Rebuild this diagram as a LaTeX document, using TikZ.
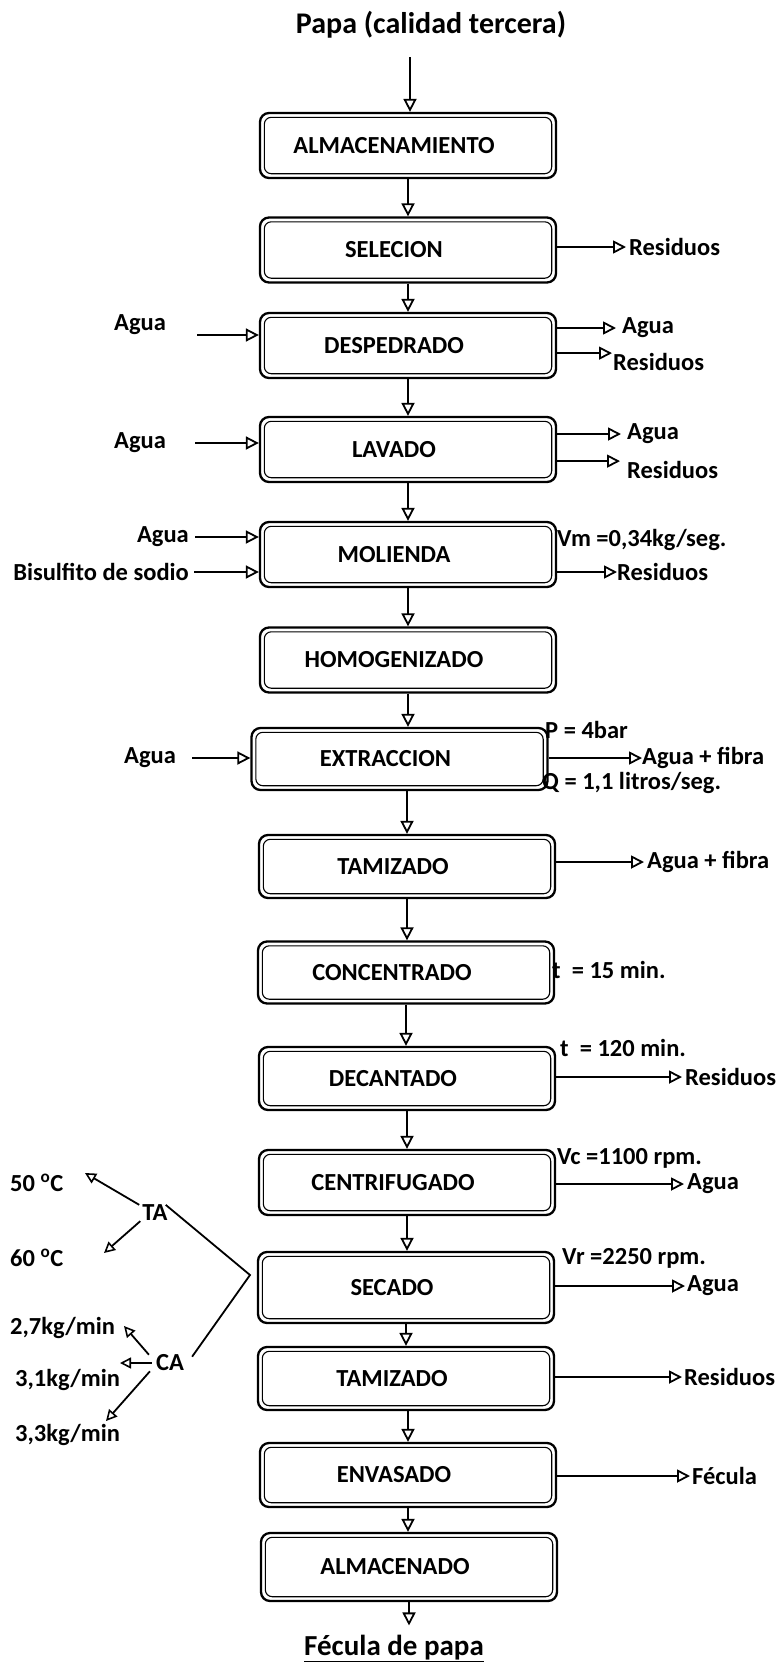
\documentclass[tikz,border=0pt]{standalone}
\usepackage{fontspec}
\setmainfont{Carlito}
\usetikzlibrary{arrows.meta}
\begin{document}
\begin{tikzpicture}[x=1pt,y=-1pt,
  every node/.style={font=\fontsize{24.5}{28}\selectfont\bfseries, inner sep=0pt},
  proc/.style={draw, line width=2.3pt, rounded corners=9pt, minimum width=296pt, minimum height=65pt,
    execute at end node={\hspace*{28pt}},
    path picture={\draw[line width=1.1pt, rounded corners=7pt]
      ([shift={(4.3pt,-4.3pt)}]path picture bounding box.north west) rectangle
      ([shift={(-4.3pt,4.3pt)}]path picture bounding box.south east);}},
  arr/.style={line width=2pt, -{Triangle[open, length=13pt, width=13pt, line width=1.8pt]}},
  sarr/.style={line width=1.8pt, -{Triangle[open, length=11pt, width=11pt, line width=1.6pt]}},
  ln/.style={line width=1.8pt},
  lbl/.style={anchor=west}]
\useasboundingbox (0,0) rectangle (776,1665);
\fill[white] (0,0) rectangle (776,1665);

% title
\node[font=\fontsize{30}{34}\selectfont\bfseries] (t0) at (431,25) {Papa (calidad tercera)};
\coordinate (t0a) at (410,57);

% process boxes
\node[proc] (b1) at (408,145.5) {ALMACENAMIENTO};
\node[proc] (b2) at (408,250) {SELECION};
\node[proc] (b3) at (408,345.5) {DESPEDRADO};
\node[proc] (b4) at (408,449.5) {LAVADO};
\node[proc] (b5) at (408,554.5) {MOLIENDA};
\node[proc] (b6) at (408,660) {HOMOGENIZADO};
\node[proc, minimum height=62pt] (b7) at (399.5,759) {EXTRACCION};
\node[proc, minimum height=63pt] (b8) at (407,866.5) {TAMIZADO};
\node[proc, minimum height=62pt] (b9) at (406,972.5) {CONCENTRADO};
\node[proc, minimum height=63pt] (b10) at (407,1078.5) {DECANTADO};
\node[proc] (b11) at (407,1182.5) {CENTRIFUGADO};
\node[proc, minimum height=71pt] (b12) at (406,1287.5) {SECADO};
\node[proc, minimum height=63pt] (b13) at (406,1378.5) {TAMIZADO};
\node[proc, minimum height=64pt] (b14) at (408,1475) {ENVASADO};
\node[proc, minimum height=68pt] (b15) at (409,1567) {ALMACENADO};

\node[font=\fontsize{29}{33}\selectfont\bfseries, anchor=base] (fe) at (394,1655) {\underline{Fécula de papa}};

% main flow
\draw[arr] (t0a) -- (t0a |- b1.north);
\draw[arr] (b1.south) -- (b2.north);
\draw[arr] (b2.south) -- (b3.north);
\draw[arr] (b3.south) -- (b4.north);
\draw[arr] (b4.south) -- (b5.north);
\draw[arr] (b5.south) -- (b6.north);
\draw[arr] (b6.south) -- (b6.south |- b7.north);
\draw[arr] (b8.north |- b7.south) -- (b8.north);
\draw[arr] (b8.south) -- (b8.south |- b9.north);
\draw[arr] (b9.south) -- (b9.south |- b10.north);
\draw[arr] (b10.south) -- (b10.south |- b11.north);
\draw[arr] (b11.south) -- (b11.south |- b12.north);
\draw[arr] (b12.south) -- (b12.south |- b13.north);
\draw[arr] (b14.north |- b13.south) -- (b14.north);
\draw[arr] (b14.south) -- (b14.south |- b15.north);
\draw[arr, shorten >=9pt] (b15.south) -- (b15.south |- fe.north);

% left inputs
\node[lbl] (l3) at (114,325) {Agua};
\coordinate (l3s) at (197,335);
\draw[arr] (l3s) -- (l3s -| b3.west);
\node[lbl] (l4) at (114,443) {Agua};
\coordinate (l4s) at (195,443);
\draw[arr] (l4s) -- (l4s -| b4.west);
\node[anchor=east] (l5a) at (189,537) {Agua};
\draw[arr] ([xshift=6pt]l5a.east) -- (l5a.east -| b5.west);
\node[anchor=east] (l5b) at (189,572) {Bisulfito de sodio};
\draw[arr] ([xshift=5pt]l5b.east) -- (l5b.east -| b5.west);
\node[lbl] (l7) at (124,758) {Agua};
\coordinate (l7s) at (192,758);
\draw[arr] (l7s) -- (l7s -| b7.west);

% right outputs and parameters
\node[lbl] (r2) at (629,247) {Residuos};
\draw[arr, shorten >=3pt] (b2.east |- r2.west) -- (r2.west);
\node[lbl] (r3a) at (622,328) {Agua};
\draw[arr, shorten >=6pt] (b3.east |- r3a.west) -- (r3a.west);
\node[lbl] (r3b) at (613,362) {Residuos};
\draw[arr, shorten >=1pt] (b3.east |- r3b.north west) -- (r3b.north west);
\node[lbl] (r4a) at (627,434) {Agua};
\draw[arr, shorten >=6pt] (b4.east |- r4a.west) -- (r4a.west);
\node[lbl] (r4b) at (627,470) {Residuos};
\draw[arr, shorten >=7pt] (b4.east |- r4b.north west) -- (r4b.north west);
\node[lbl] (r5v) at (557,540) {Vm =0,34kg/seg.};
\node[lbl] (r5) at (617,572) {Residuos};
\draw[arr] (b5.east |- r5.west) -- (r5.west);
\node[lbl] (r7p) at (545,730) {P = 4bar};
\node[lbl] (r7) at (642,758) {Agua + fibra};
\draw[arr] (b7.east |- r7.west) -- (r7.west);
\node[lbl] (r7q) at (542,783) {Q = 1,1 litros/seg.};
\node[lbl] (r8) at (647,862) {Agua + fibra};
\draw[arr, shorten >=3pt] (b8.east |- r8.west) -- (r8.west);
\node[lbl] (r9) at (552,970) {t\ \ = 15 min.};
\node[lbl] (r10t) at (560,1048) {t\ \ = 120 min.};
\node[lbl] (r10) at (685,1077) {Residuos};
\draw[arr, shorten >=3pt] (b10.east |- r10.west) -- (r10.west);
\node[lbl] (r11v) at (557,1158) {Vc =1100 rpm.};
\node[lbl] (r11) at (687,1184) {Agua};
\draw[arr, shorten >=3pt] (b11.east |- r11.west) -- (r11.west);
\node[lbl] (r12v) at (562,1258) {Vr =2250 rpm.};
\node[lbl] (r12) at (687,1286) {Agua};
\draw[arr, shorten >=2pt] (b12.east |- r12.west) -- (r12.west);
\node[lbl] (r13) at (684,1377) {Residuos};
\draw[arr, shorten >=2pt] (b13.east |- r13.west) -- (r13.west);
\node[lbl] (r14) at (692,1476) {Fécula};
\draw[arr, shorten >=2pt] (b14.east |- r14.west) -- (r14.west);

% TA / CA conditions
\node (ta) at (155,1213) {TA};
\node (ca) at (170,1363) {CA};
\node[lbl] (n50) at (10,1183) {50 \textsuperscript{o}C};
\node[lbl] (n60) at (10,1258) {60 \textsuperscript{o}C};
\node[lbl] (n27) at (10,1328) {2,7kg/min};
\node[lbl] (n31) at (15,1380) {3,1kg/min};
\node[lbl] (n33) at (15,1435) {3,3kg/min};
\coordinate (a50) at (85,1173);
\coordinate (a60) at (104,1253);
\coordinate (vx) at (250,1275);
\coordinate (a27) at (124,1326);
\coordinate (a31) at (120,1363);
\coordinate (a33) at (106,1421);
\draw[sarr] ([xshift=-3pt]ta.north west) -- (a50);
\draw[sarr] ([xshift=-2pt]ta.south west) -- (a60);
\draw[ln] ([xshift=-2pt]ta.north east) -- (vx) -- ([shift={(8pt,-2pt)}]ca.north east);
\draw[sarr] ([xshift=-7pt]ca.north west) -- (a27);
\draw[sarr] ([xshift=-4pt]ca.west) -- (a31);
\draw[sarr] ([xshift=-6pt]ca.south west) -- (a33);
\end{tikzpicture}
\end{document}
